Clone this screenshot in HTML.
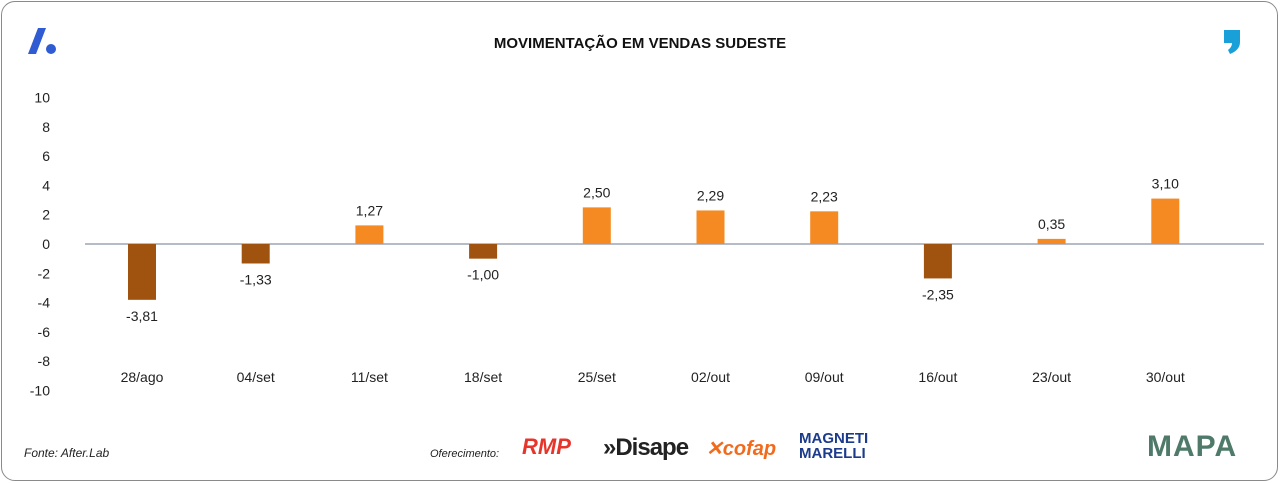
<!DOCTYPE html>
<html><head><meta charset="utf-8"><style>
body{margin:0;width:1280px;height:483px;background:#fff;font-family:"Liberation Sans",sans-serif;overflow:hidden}
#frame{position:absolute;left:1px;top:1px;width:1275px;height:478px;border:1.5px solid #8a8a8a;border-radius:14px}
.t{position:absolute;white-space:nowrap}
</style></head><body>
<div id="frame"></div>
<div class="t" style="left:0;width:1280px;text-align:center;top:35px;font-weight:bold;font-size:15px;color:#111">MOVIMENTAÇÃO EM VENDAS SUDESTE</div>
<svg style="position:absolute;left:24px;top:24px" width="36" height="32"><path d="M4 30 L14 4 L22 4 L12 30Z" fill="#2f5bd3"/><circle cx="27" cy="25" r="5" fill="#2f5bd3"/></svg>
<svg style="position:absolute;left:1222px;top:28px" width="24" height="28"><path d="M2 2 H18 V14 Q18 22 8 26 L6 22 Q10 19 10 15 H2Z" fill="#1aa0d8"/></svg>
<svg id="chart" width="1280" height="483" style="position:absolute;left:0;top:0"></svg>
<div class="t" style="left:24px;top:446px;font-size:12px;font-style:italic;color:#222">Fonte: After.Lab</div>
<div class="t" style="left:430px;top:448px;font-size:11px;font-style:italic;color:#222">Oferecimento:</div>
<div class="t" style="left:522px;top:434px;font-size:22px;font-weight:bold;font-style:italic;color:#e8352b">RMP</div>
<div class="t" style="left:603px;top:434px;font-size:24px;font-weight:bold;color:#222;letter-spacing:-1px">»Disape</div>
<div class="t" style="left:706px;top:436px;font-size:20px;font-weight:bold;font-style:italic;color:#f26b1d">✕cofap</div>
<div class="t" style="left:799px;top:431px;font-size:15px;font-weight:bold;color:#1c3b8c;line-height:15px">MAGNETI<br>MARELLI</div>
<div class="t" style="left:1147px;top:430px;font-size:30px;font-weight:bold;color:#4f7a6a;letter-spacing:1px">MAPA</div>
<script>
const categories=["28/ago","04/set","11/set","18/set","25/set","02/out","09/out","16/out","23/out","30/out"];
const values=[-3.81,-1.33,1.27,-1.00,2.50,2.29,2.23,-2.35,0.35,3.10];
const yTicks=[10,8,6,4,2,0,-2,-4,-6,-8,-10];
const labels=["-3,81","-1,33","1,27","-1,00","2,50","2,29","2,23","-2,35","0,35","3,10"];
const NS="http://www.w3.org/2000/svg";
const svg=document.getElementById('chart');
const y=v=>244-v*14.65;
const x=i=>142+i*113.7;
function mk(t,a,txt){const e=document.createElementNS(NS,t);for(const k in a)e.setAttribute(k,a[k]);if(txt!==undefined)e.textContent=txt;svg.appendChild(e);return e;}
yTicks.forEach(v=>{const e=mk('text',{x:50,y:y(v)+5,'text-anchor':'end','font-size':14,fill:'#222'},v);

});
const ax=mk('line',{x1:85,x2:1264,y1:244,y2:244,stroke:'#8a93a3','stroke-width':1.2});


values.forEach((v,i)=>{
 const r=mk('rect',{x:x(i)-14,width:28,y:Math.min(y(v),244),height:Math.abs(y(v)-244),fill:v<0?'#a0520f':'#f58a23'});
 
 
 const ly=v<0?y(v)+21:y(v)-10;
 const l=mk('text',{x:x(i),y:ly,'text-anchor':'middle','font-size':14,fill:'#222'},labels[i]);
 
 
 const c=mk('text',{x:x(i),y:382,'text-anchor':'middle','font-size':14,fill:'#222'},categories[i]);
 
 
});
</script>
</body></html>
